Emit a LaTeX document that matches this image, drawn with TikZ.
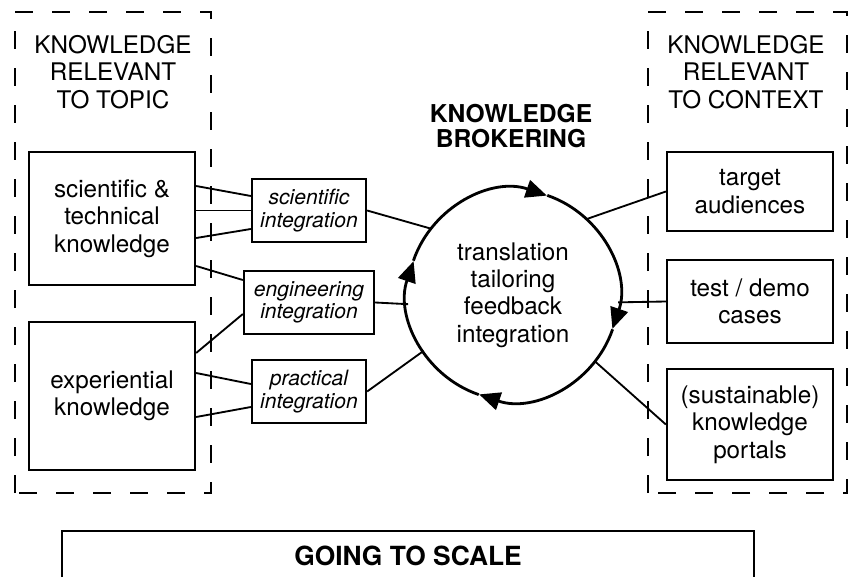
\documentclass[tikz,border=0pt]{standalone}
\usepackage{fontspec}
\setmainfont{TeX Gyre Heros}
\usetikzlibrary{arrows.meta}

\begin{document}
\begin{tikzpicture}[every node/.style={align=center, font=\fontsize{13.8}{15.6}\selectfont},
  knowbox/.style={draw, line width=1.3pt, minimum width=3.32cm, inner sep=0pt},
  intbox/.style={draw, line width=1.3pt, minimum height=1.26cm, inner sep=0pt, font=\fontsize{12}{12.8}\selectfont\itshape},
  areabox/.style={draw, line width=1.2pt, dash pattern=on 0.36cm off 0.38cm},
  link/.style={line width=1.05pt},
  cyclearrow/.style={line width=1.6pt, -{Triangle[length=0.42cm, width=0.36cm]}},
  headline/.style={font=\fontsize{14}{14.6}\selectfont\bfseries}]
\useasboundingbox (0,0) rectangle (16.98,11.54);

% the two knowledge areas
\draw[areabox] (0.30,1.68) rectangle (4.22,11.30);
\draw[areabox] (12.96,1.68) rectangle (16.94,11.30);
\node (topic) at (2.26,10.10) {KNOWLEDGE\\RELEVANT\\TO TOPIC};
\node (context) at (14.92,10.10) {KNOWLEDGE\\RELEVANT\\TO CONTEXT};
\node[headline] (brokering) at (10.22,9.02) {KNOWLEDGE\\BROKERING};

\node[knowbox, minimum height=2.66cm] (sciknow) at (2.24,7.17) {scientific \&\\technical\\knowledge};
\node[knowbox, minimum height=2.96cm] (expknow) at (2.24,3.62) {experiential\\knowledge};
\node[knowbox, minimum height=1.58cm] (target) at (15.00,7.71) {target\\audiences};
\node[knowbox, minimum height=1.66cm] (testdemo) at (15.00,5.51) {test / demo\\cases};
\node[knowbox, minimum height=2.22cm] (portals) at (15.00,3.05) {(sustainable)\\knowledge\\portals};

\node[intbox, minimum width=2.28cm] (sciint) at (6.18,7.33) {scientific\\integration};
\node[intbox, minimum width=2.60cm] (engint) at (6.18,5.49) {engineering\\integration};
\node[intbox, minimum width=2.28cm] (pracint) at (6.18,3.71) {practical\\integration};

\node[circle, minimum size=4.2cm, inner sep=0pt] (broker) at (10.26,5.64) {translation\\tailoring\\feedback\\integration};

% links into the integration boxes
\draw[link] ([yshift=0.65cm]sciknow.east) -- ([yshift=0.29cm]sciint.west);
\draw[link] (sciint.west -| sciknow.east) -- (sciint.west);
\draw[link] ([yshift=-0.39cm]sciknow.east) -- ([yshift=-0.37cm]sciint.west);
\draw[link] ([yshift=-0.95cm]sciknow.east) -- ([yshift=0.45cm]engint.west);
\draw[link] ([yshift=0.86cm]expknow.east) -- ([yshift=-0.23cm]engint.west);
\draw[link] ([yshift=0.46cm]expknow.east) -- ([yshift=0.15cm]pracint.west);
\draw[link] ([yshift=-0.42cm]expknow.east) -- ([yshift=-0.31cm]pracint.west);

% links around the brokering cycle
\draw[link] (sciint.east) -- (broker.141);
\draw[link] (engint.east) -- (broker.185);
\draw[link] (pracint.east) -- (broker.212);
\draw[link] (broker.46) -- (target.west);
\draw[link] (broker.-4) -- (testdemo.west);
\draw[link] (broker.-39) -- (portals.west);

\draw[cyclearrow] (broker.161) arc[start angle=161, end angle=71, radius=2.1cm];
\draw[cyclearrow] (broker.71) arc[start angle=71, end angle=-19, radius=2.1cm];
\draw[cyclearrow] (broker.-19) arc[start angle=-19, end angle=-109, radius=2.1cm];
\draw[cyclearrow] (broker.-109) arc[start angle=-109, end angle=-199, radius=2.1cm];

% open box along the bottom edge
\draw[line width=1.3pt] (1.24,0) |- (15.08,0.92) -- (15.08,0);
\node[headline, font=\fontsize{15}{16}\selectfont\bfseries] (scale) at (8.16,0.42) {GOING TO SCALE};
\end{tikzpicture}
\end{document}
